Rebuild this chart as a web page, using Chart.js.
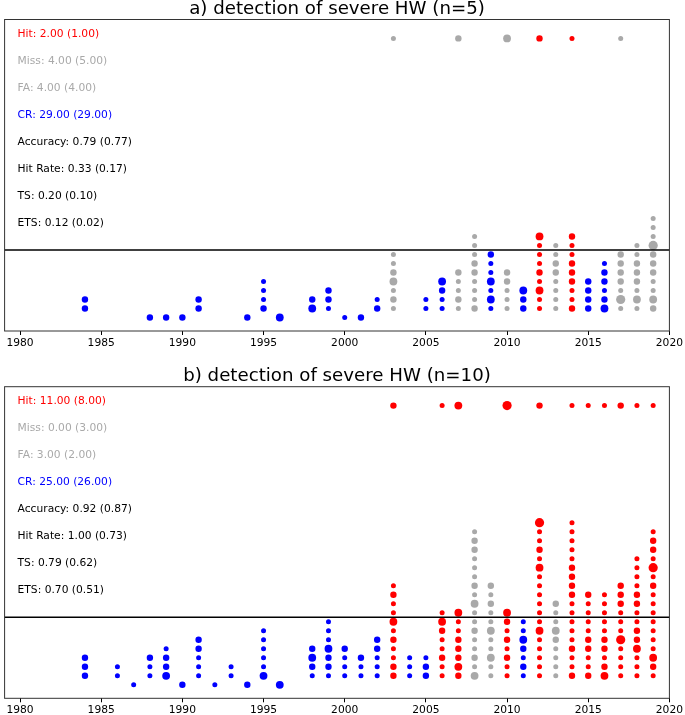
<!DOCTYPE html>
<html>
<head>
<meta charset="utf-8">
<script src="https://cdn.jsdelivr.net/npm/chart.js@4.4.1/dist/chart.umd.min.js"></script>
<style>
  html, body { margin:0; padding:0; background:#fff; }
  #wrap { position:relative; width:685px; height:715px; }
  .panel { position:absolute; left:0; width:685px; }
</style>
</head>
<body>
<div id="wrap">
  <div class="panel" style="top:0;height:357px"><canvas id="chartA" width="685" height="357"></canvas></div>
  <div class="panel" style="top:357px;height:358px"><canvas id="chartB" width="685" height="358"></canvas></div>
</div>
<script>
// ---- panel a) n=5 ----
// one column per year; weights are dot sizes from the lowest dot upwards
const yearsA   = [1984,1988,1989,1990,1991,1994,1995,1996,1998,1999,2000,2001,2002,2003,2005,2006,2007,2008,2009,2010,2011,2012,2013,2014,2015,2016,2017,2018,2019];
const startA   = [2,1,1,1,2,1,2,1,2,2,1,1,2,2,2,2,2,2,2,2,2,2,2,2,2,2,2,2,2];
const weightsA = ['22','2','2','2','22','2','2111','3','32','122','1','2','21','1213211','11','1123','12112','211122111','1313112','11122','223','113121113','11112211','211222112','2222','321221','1412222','13122211','23112224111'];
const classA   = ['CR','CR','CR','CR','CR','CR','CR','CR','CR','CR','CR','CR','CR','FA','CR','CR','FA','FA','CR','FA','CR','Hit','FA','Hit','CR','CR','FA','FA','FA'];
const obsYearsA   = [2003,2007,2010,2012,2014,2017];
const obsWeightsA = [1,2,3,2,1,1];
const obsClassA   = ['Miss','Miss','Miss','Hit','Hit','Miss'];
const statsA = ['Hit: 2.00 (1.00)','Miss: 4.00 (5.00)','FA: 4.00 (4.00)','CR: 29.00 (29.00)','Accuracy: 0.79 (0.77)','Hit Rate: 0.33 (0.17)','TS: 0.20 (0.10)','ETS: 0.12 (0.02)'];

// ---- panel b) n=10 ----
const yearsB   = [1984,1986,1987,1988,1989,1990,1991,1992,1993,1994,1995,1996,1998,1999,2000,2001,2002,2003,2004,2005,2006,2007,2008,2009,2010,2011,2012,2013,2014,2015,2016,2017,2018,2019];
const startB   = [2,2,1,2,2,1,2,1,2,1,2,1,2,2,2,2,2,2,2,2,2,2,2,2,2,2,2,2,2,2,2,2,2,2];
const weightsB = ['222','11','1','112','3221','2','11122','1','11','2','311111','3','1232','1223111','1112','112','11122','22112131121','111','221','11211231','23222113','31211211312111221','11311311212','11212123','1212311','111113111111312114','111123112','211211111222211111','2112211112','3212211111','11114111222','11132211221111','12311111112141221'];
const classB   = ['CR','CR','CR','CR','CR','CR','CR','CR','CR','CR','CR','CR','CR','CR','CR','CR','CR','Hit','CR','CR','Hit','Hit','FA','FA','Hit','CR','Hit','FA','Hit','Hit','Hit','Hit','Hit','Hit'];
const obsYearsB   = [2003,2006,2007,2010,2012,2014,2015,2016,2017,2018,2019];
const obsWeightsB = [2,1,3,4,2,1,1,1,2,1,1];
const obsClassB   = ['Hit','Hit','Hit','Hit','Hit','Hit','Hit','Hit','Hit','Hit','Hit'];
const statsB = ['Hit: 11.00 (8.00)','Miss: 0.00 (3.00)','FA: 3.00 (2.00)','CR: 25.00 (26.00)','Accuracy: 0.92 (0.87)','Hit Rate: 1.00 (0.73)','TS: 0.79 (0.62)','ETS: 0.70 (0.51)'];

const OBS_ROW = 32;       // row of the observed events
const THRESHOLD = 8.5;    // horizontal black line
const xTicks = [1980,1985,1990,1995,2000,2005,2010,2015,2020];
const statClass = ['Hit','Miss','FA','CR',null,null,null,null];

const COLORS = { Hit:'#ff0000', Miss:'#a9a9a9', FA:'#a9a9a9', CR:'#0000ff' };
const FONT = 'DejaVu Sans';
const radius = w => 1.8 + 0.7 * w;

function buildDatasets(years, starts, weights, classes, obsYears, obsWeights, obsClasses){
  const groups = {};
  const add = (cls, pt) => { (groups[cls] = groups[cls] || []).push(pt); };
  years.forEach((yr, i) => {
    [...weights[i]].forEach((w, k) => add(classes[i], { x: yr, y: starts[i] + k, r: radius(+w) }));
  });
  obsYears.forEach((yr, i) => add(obsClasses[i], { x: yr, y: OBS_ROW, r: radius(obsWeights[i]) }));
  return Object.keys(groups).map(cls => ({
    label: cls, data: groups[cls],
    backgroundColor: COLORS[cls], borderWidth: 0, hoverRadius: 0
  }));
}

function decor(title, stats){
  return {
    id: 'decor',
    afterDatasetsDraw(chart){
      const { ctx, chartArea: a, scales: { x, y } } = chart;
      ctx.save();
      // threshold line
      const ty = y.getPixelForValue(THRESHOLD);
      ctx.strokeStyle = '#000'; ctx.lineWidth = 1.6;
      ctx.beginPath(); ctx.moveTo(a.left, ty); ctx.lineTo(a.right, ty); ctx.stroke();
      // frame
      ctx.strokeStyle = '#333'; ctx.lineWidth = 1;
      ctx.strokeRect(a.left, a.top, a.right - a.left, a.bottom - a.top);
      // stats text
      ctx.font = `10.7px "${FONT}"`;
      ctx.textAlign = 'left'; ctx.textBaseline = 'middle';
      stats.forEach((s, i) => {
        ctx.fillStyle = statClass[i] ? COLORS[statClass[i]] : '#000';
        ctx.fillText(s, x.getPixelForValue(1979.85), y.getPixelForValue(32.5 - 3 * i));
      });
      // title
      ctx.fillStyle = '#000';
      ctx.font = `18.2px "${FONT}"`;
      ctx.textAlign = 'center'; ctx.textBaseline = 'alphabetic';
      ctx.fillText(title, (a.left + a.right) / 2, a.top - 5.5);
      ctx.restore();
    }
  };
}

function makeChart(id, datasets, title, stats, padTop, axisH){
  return new Chart(document.getElementById(id), {
    type: 'bubble',
    data: { datasets },
    options: {
      responsive: false, animation: false, devicePixelRatio: 1,
      layout: { padding: { top: padTop, left: 1, right: 13, bottom: 0 } },
      plugins: { legend: { display: false }, tooltip: { enabled: false }, title: { display: false } },
      scales: {
        x: {
          type: 'linear', min: 1979.05, max: 2020,
          afterBuildTicks: s => { s.ticks = xTicks.map(v => ({ value: v })); },
          afterFit: s => { s.height = axisH; },
          ticks: { color: '#000', padding: 2, maxRotation: 0, font: { family: FONT, size: 10.7 }, callback: v => String(v) },
          grid: { drawOnChartArea: false, drawTicks: true, tickLength: 4, color: '#000' },
          border: { display: false }
        },
        y: { min: -0.5, max: 34.1, display: false }
      }
    },
    plugins: [decor(title, stats)]
  });
}

makeChart('chartA', buildDatasets(yearsA, startA, weightsA, classA, obsYearsA, obsWeightsA, obsClassA),
  'a) detection of severe HW (n=5)', statsA, 19.5, 26);
makeChart('chartB', buildDatasets(yearsB, startB, weightsB, classB, obsYearsB, obsWeightsB, obsClassB),
  'b) detection of severe HW (n=10)', statsB, 29.7, 16.7);
</script>
</body>
</html>
